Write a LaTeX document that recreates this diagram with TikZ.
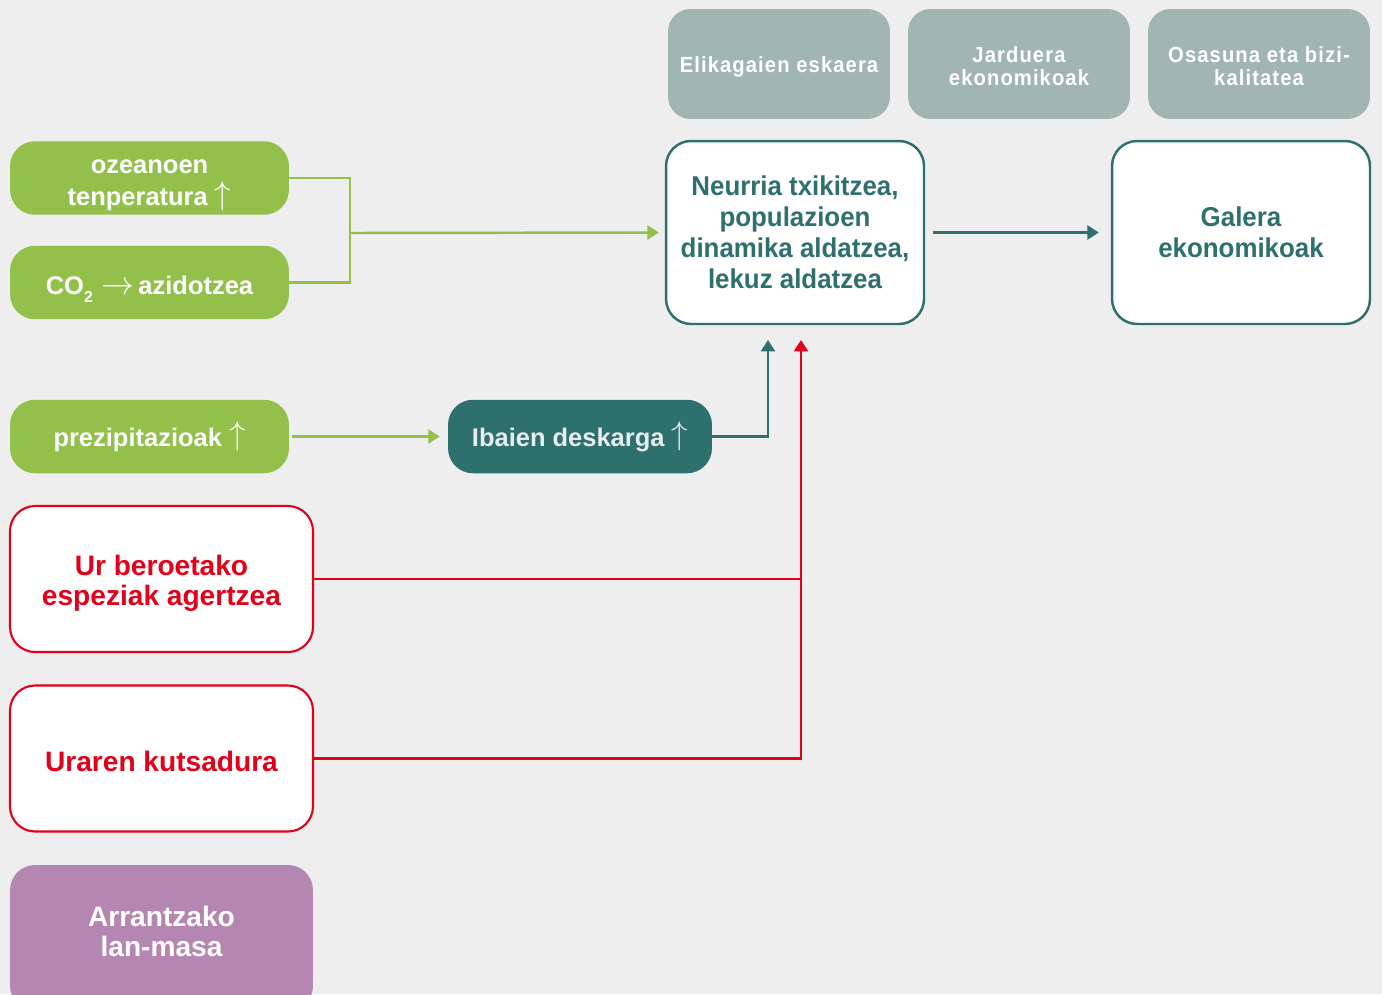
\documentclass[tikz,border=0pt]{standalone}
\usepackage{fontspec}
\usepackage{graphicx}
\setmainfont{Liberation Sans}
\newfontfamily\narrowfont[FakeStretch=0.95]{Liberation Sans}
\newfontfamily\spacedfont[FakeStretch=0.92,LetterSpace=5]{Liberation Sans}
\usetikzlibrary{arrows.meta}
\definecolor{bggray}{RGB}{237,238,237}
\definecolor{leafgreen}{RGB}{147,192,75}
\definecolor{seateal}{RGB}{46,112,110}
\definecolor{stonegray}{RGB}{161,181,179}
\definecolor{alarmred}{RGB}{226,0,26}
\definecolor{lilac}{RGB}{181,134,178}
\definecolor{paleteal}{RGB}{232,238,238}
\newcommand{\upar}{\ \smash{\raisebox{0.1ex}{\scalebox{1.3}{$\uparrow$}}}}
\newcommand{\padtop}[1]{\rule{0pt}{#1}}
\newcommand{\padbot}[1]{\rule[-#1]{0pt}{1pt}}
\tikzset{toppad/.style={execute at begin node=\rule{0pt}{#1}}}
\tikzstyle{boxtext} = [align=center, inner sep=0pt]
\tikzstyle{greenbox} = [boxtext, rounded corners=0.5cm, fill=leafgreen, text=white, minimum width=5.58cm, minimum height=1.47cm, font=\fontsize{14.5}{18.5}\selectfont\bfseries, toppad=14pt]
\tikzstyle{greybox} = [boxtext, rounded corners=0.45cm, fill=stonegray, text=white, minimum width=4.44cm, minimum height=2.2cm, font=\spacedfont\fontsize{12.5}{13.6}\selectfont\bfseries, toppad=12pt]
\tikzstyle{tealbox} = [boxtext, rounded corners=0.5cm, draw=seateal, line width=1.4pt, fill=white, text=seateal, minimum width=5.16cm, minimum height=3.66cm, font=\narrowfont\fontsize{15.5}{17.6}\selectfont\bfseries]
\tikzstyle{redbox} = [boxtext, rounded corners=0.5cm, draw=alarmred, line width=1.2pt, fill=white, text=alarmred, minimum width=6.06cm, minimum height=2.92cm, font=\fontsize{16}{17}\selectfont\bfseries, toppad=15pt]
\tikzstyle{arr} = [-{Triangle[width=8pt,length=6.5pt]}]

\begin{document}
\begin{tikzpicture}[x=0.02cm, y=-0.02cm]
\fill[bggray] (0,0) rectangle (1382,994);
\useasboundingbox (0,0) rectangle (1382,994);
% top row
\node[greybox] (elik) at (779,64) {Elikagaien eskaera};
\node[greybox] (jard) at (1019,64) {\padtop{11.5pt}Jarduera\\ekonomikoak};
\node[greybox] (osas) at (1259,64) {\padtop{11.5pt}Osasuna eta bizi-\\kalitatea};
% effects
\node[tealbox] (neur) at (795,232.5) {Neurria txikitzea,\\populazioen\\dinamika aldatzea,\\lekuz aldatzea};
\node[tealbox] (galera) at (1241,232.5) {Galera\\ekonomikoak};
% drivers
\node[greenbox] (ozean) at (149.5,178) {\padtop{16pt}ozeanoen\\tenperatura\upar};
\node[greenbox] (co2) at (149.5,282.5) {CO\smash{\raisebox{-0.55ex}{\fontsize{9}{9}\selectfont 2}}\,\,\scalebox{1.3}{$\rightarrow$}\,azidotzea};
\node[greenbox] (prez) at (149.5,436.5) {prezipitazioak\upar};
\node[greenbox, fill=seateal, text=paleteal, minimum width=5.28cm] (ibai) at (580,436.5) {Ibaien deskarga\upar};
\node[redbox] (urber) at (161.5,579) {\padtop{16pt}Ur beroetako\\espeziak agertzea};
\node[redbox] (urar) at (161.5,758.5) {Uraren kutsadura};
\node[redbox, draw=none, fill=lilac, text=white] (arran) at (161.5,938) {Arrantzako\\lan-masa\padbot{8pt}};
% connectors
\coordinate (gj) at (350,233);
\coordinate (tealin) at (768,340);
\coordinate (redin) at (801,340);
\draw[leafgreen, line width=1.4pt] (ozean.east) -| (gj) |- (co2.east);
\draw[leafgreen, line width=1.4pt, arr, shorten >=0.12cm] (gj) -- (neur.west);
\draw[leafgreen, line width=1.4pt, arr, shorten <=0.06cm, shorten >=0.16cm] (prez.east) -- (ibai.west);
\draw[seateal, line width=1.3pt, arr, shorten <=0.16cm, shorten >=0.24cm] (neur.east) -- (galera.west);
\draw[seateal, line width=1.3pt, arr] (ibai.east) -| (tealin);
\draw[alarmred, line width=1.3pt] (urber.east) -- (urber.east -| redin);
\draw[alarmred, line width=1.3pt, arr] (urar.east) -| (redin);
\end{tikzpicture}
\end{document}
